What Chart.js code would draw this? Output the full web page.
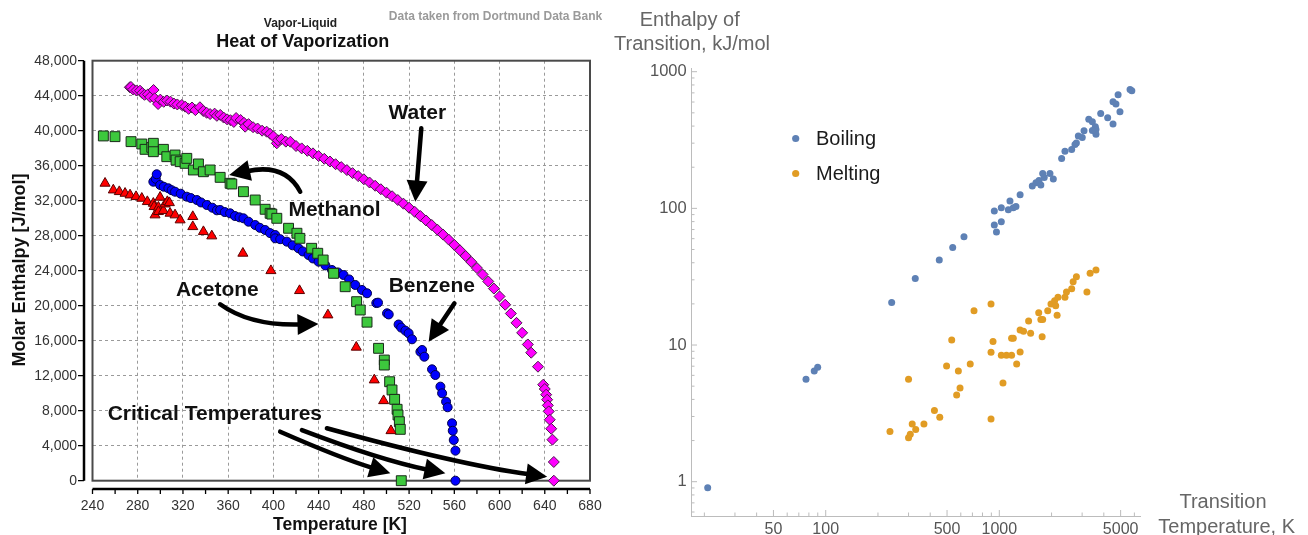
<!DOCTYPE html>
<html>
<head>
<meta charset="utf-8">
<script src="https://cdn.jsdelivr.net/npm/chart.js@4.4.1/dist/chart.umd.min.js"></script>
<style>
  html, body { margin: 0; padding: 0; background: #fff; overflow: hidden; }
  #left { position: absolute; left: 0; top: 0; }
  #right { position: absolute; left: 600px; top: 0; }
</style>
</head>
<body>
<canvas id="left" width="620" height="535"></canvas>
<canvas id="right" width="708" height="535"></canvas>
<script>
Chart.defaults.font.family = "Arial, 'Liberation Sans', sans-serif";

// ---- heat of vaporization (K, J/mol)
const waterT = [273, 274, 276, 279, 282, 284, 286, 289, 291, 294, 295, 298, 300, 303, 306, 309, 312, 315, 319, 322,
  325, 328, 331, 335, 338, 341, 344, 348, 350, 353, 356, 359, 362, 365, 367, 371, 374, 375, 378, 382,
  386, 390, 394, 397, 400, 403, 404, 407, 411, 415, 420, 425, 430, 435, 440, 445, 450, 455, 460, 465,
  470, 475, 480, 485, 490, 495, 500, 505, 510, 515, 520, 525, 530, 535, 540, 545, 550, 555, 560, 565,
  570, 575, 580, 585, 590, 595, 600, 605, 610, 615, 620, 625, 628, 634, 638.6, 640, 641.2, 642.1, 642.7,
  643.5, 644.4, 645.7, 646.8, 648, 648];
const waterH = [44960, 45000, 44700, 44600, 44570, 44300, 44100, 44150, 43850, 44650, 43700, 43050, 43550, 43300, 43450, 43320, 43100, 43000, 42940, 42750,
  42500, 42650, 42350, 42680, 42250, 42050, 41900, 41950, 41700, 41800, 41500, 41300, 41200, 41000, 41450, 41220, 40900, 40460, 40750, 40400,
  40250, 40000, 39890, 39650, 39350, 38560, 38900, 39050, 38750, 38740, 38250, 37980, 37700, 37410, 37100, 36790, 36480, 36170, 35840, 35500,
  35150, 34810, 34450, 34080, 33710, 33310, 32920, 32510, 32080, 31660, 31200, 30730, 30240, 29740, 29220, 28690, 28130, 27560, 26950, 26330,
  25680, 25000, 24300, 23570, 22770, 21960, 21060, 20110, 19110, 18040, 16900, 15570, 14630, 13030, 10970, 10480, 9830, 9260, 8610,
  7920, 6970, 5940, 4690, 2140, 0];

const methanolT = [249.6, 259.9, 274.1, 283.6, 286.5, 292.4, 293.8, 293.8, 302.7, 305.7, 313, 313.9, 317.5, 321.9, 323.4, 329.2, 333.7, 338.1, 344, 352.9,
  361.7, 363.2, 373.5, 383.9, 392.7, 397.1, 398.6, 403, 413.4, 420.8, 423.4, 433.8, 439.2, 444, 453.2, 463.5, 473.6, 476.8, 482.8, 493,
  498.1, 498.1, 502.8, 504.9, 507.2, 509.4, 510.2, 511.4, 512.2, 513.1];
const methanolH = [39400, 39320, 38750, 38480, 37870, 38100, 38560, 37600, 37870, 37030, 37220, 36650, 36460, 36270, 36840, 35510, 36200, 35310, 35510, 34670,
  33990, 33910, 33030, 32080, 31020, 30560, 30470, 29990, 28850, 28280, 27700, 26560, 25990, 25220, 23700, 22170, 20460, 19510, 18120, 15130,
  13790, 13220, 11310, 10370, 9300, 8160, 7510, 6740, 5870, 0];

const benzeneT = [293.8, 296, 296.8, 299.8, 303, 307.1, 310, 313, 318, 323.4, 327, 332.3, 336, 341.1, 346, 350, 352.9, 357, 361.7, 366,
  370, 373.5, 378, 383.9, 388, 392.7, 397, 401.6, 401.6, 406, 411.9, 417, 422.2, 426, 431.1, 435, 439.9, 446, 451.8, 457,
  462, 467, 472.4, 478.3, 482.8, 491, 492.5, 500.5, 502, 510.7, 513, 516.7, 519.6, 522.6, 530, 531.5, 533.5, 540.3, 543.2, 547.7,
  549.2, 552.7, 554.1, 558, 558.6, 559.5, 561, 561];
const benzeneH = [34170, 34500, 35020, 33800, 33600, 33420, 33200, 33030, 32800, 32460, 32300, 32080, 31800, 31510, 31200, 30900, 30940, 30700, 30560, 30250,
  30100, 29990, 29600, 29220, 28900, 28650, 28300, 28080, 27700, 27600, 27320, 26900, 26560, 26200, 25790, 25400, 25030, 24600, 24080, 23800,
  23510, 23000, 22370, 21800, 21420, 20300, 20350, 19130, 19000, 17850, 17500, 17150, 16850, 16160, 14740, 14940, 14170, 12730, 12080, 10750,
  9990, 9030, 8390, 6560, 5710, 4650, 3430, 0];

const acetoneT = [251.1, 258.4, 263.7, 268.8, 273.2, 278.5, 283.6, 288.5, 293.8, 294.5, 295.3, 298.3, 298.3, 299.8, 302.7, 304.2, 306.2, 308, 308.6, 313,
  317.5, 328.7, 328.7, 338.1, 345.5, 373, 397.8, 423.1, 448.2, 473.3, 489.2, 497.5, 504];
const acetoneH = [33990, 33220, 33030, 32840, 32650, 32460, 32270, 31890, 31700, 31320, 30370, 31250, 30750, 32390, 30860, 31620, 31890, 31770, 30560, 30370,
  29800, 30180, 29030, 28460, 27970, 25990, 24000, 21720, 18940, 15250, 11510, 9140, 5710];

const tempTicks = [240, 280, 320, 360, 400, 440, 480, 520, 560, 600, 640, 680];
const enthalpyTicks = [0, 4000, 8000, 12000, 16000, 20000, 24000, 28000, 32000, 36000, 40000, 44000, 48000];

// ---- enthalpy of transition (K, kJ/mol)
const boilingT = [20.9, 77, 85.9, 89.9, 239.9, 328, 451, 539, 626, 936, 963, 1027, 936, 1027, 1127, 1152, 1204, 1247, 1318, 1549,
  1626, 1693, 1735, 1778, 1815, 1958, 2047, 2286, 2389, 2612, 2729, 2780, 2853, 3005, 3076, 3276, 3436, 3575, 3605, 3605,
  3436, 3838, 4210, 4519, 4698, 4835, 4955, 4519, 5665, 5800];
const boilingH = [0.904, 5.61, 6.45, 6.87, 20.5, 30.7, 41.9, 51.8, 62, 75.5, 67.1, 79.8, 95.6, 101, 97.6, 113, 101, 103, 126, 146,
  154, 160, 148, 180, 168, 180, 164, 232, 262, 270, 293, 301, 338, 330, 370, 448, 430, 396, 377, 349,
  372, 495, 460, 602, 580, 678, 509, 414, 741, 725];
const meltingT = [234.5, 300, 300, 307, 315, 330, 368, 423, 454, 497, 532, 568, 594, 581, 680, 715, 896, 896, 920, 896,
  1027, 1100, 1177, 1050, 1177, 1204, 1259, 1318, 1318, 1379, 1475, 1515, 1687, 1735, 1778, 1765, 1901, 1985, 2083, 2113,
  2153, 2178, 2389, 2438, 2612, 2663, 2781, 3197, 3335, 3605];
const meltingH = [2.33, 5.61, 2.10, 2.22, 2.64, 2.41, 2.64, 3.32, 2.96, 7.03, 10.9, 4.31, 4.84, 6.45, 7.26, 17.8, 19.95, 8.84, 10.6, 2.87,
  8.41, 8.41, 8.41, 5.27, 11.2, 11.2, 7.26, 8.9, 12.9, 12.6, 15, 12.2, 17.2, 15.4, 15.4, 11.5, 17.8, 19.95, 21.1, 19.4,
  16.5, 22.4, 22.4, 24.4, 25.8, 29.1, 31.6, 24.4, 33.5, 35.4];

const logXTicks = [20, 30, 40, 50, 60, 70, 80, 90, 100, 200, 300, 400, 500, 600, 700, 800, 900, 1000, 2000, 3000, 4000, 5000, 6000];
const logXLabels = [50, 100, 500, 1000, 5000];
const logYTicks = [0.6, 0.7, 0.8, 0.9, 1, 2, 3, 4, 5, 6, 7, 8, 9, 10, 20, 30, 40, 50, 60, 70, 80, 90, 100, 200, 300, 400, 500, 600, 700, 800, 900, 1000];
const logYLabels = [1, 10, 100, 1000];

const toXY = (xs, ys) => xs.map((x, i) => ({ x, y: ys[i] }));

// annotation labels and arrows, placed in data units
const notes = [
  { text: 'Water', x: 527.3, y: 41990 },
  { text: 'Methanol', x: 454, y: 30940 },
  { text: 'Benzene', x: 540.1, y: 22250 },
  { text: 'Acetone', x: 350.4, y: 21790 },
  { text: 'Critical Temperatures', x: 348.2, y: 7620 }
];
const arrows = [
  [[530.8, 40280], [528.2, 36080], [525.5, 31890]],
  [[423.7, 33030], [410.4, 36310], [360.9, 34940]],
  [[560.1, 20280], [548.7, 18085], [537.3, 15890]],
  [[352.9, 20160], [379.4, 17680], [439.9, 17910]],
  [[406.0, 5600], [459.1, 2590], [503.4, 846]],
  [[425.2, 5790], [494.5, 2370], [552.1, 846]],
  [[447.3, 5990], [565.4, 1790], [642.1, 457]]
];

function drawArrow(ctx, p0, c, p1) {
  const dx = p1.x - c.x, dy = p1.y - c.y, len = Math.hypot(dx, dy);
  const ux = dx / len, uy = dy / len;
  const hl = 21, hw = 10.5;
  const bx = p1.x - ux * hl, by = p1.y - uy * hl;
  ctx.beginPath();
  ctx.moveTo(p0.x, p0.y);
  ctx.quadraticCurveTo(c.x, c.y, bx + ux * 3, by + uy * 3);
  ctx.stroke();
  ctx.beginPath();
  ctx.moveTo(p1.x, p1.y);
  ctx.lineTo(bx - uy * hw, by + ux * hw);
  ctx.lineTo(bx + uy * hw, by - ux * hw);
  ctx.closePath();
  ctx.fill();
}

const leftDecor = {
  id: 'leftDecor',
  beforeDatasetsDraw(chart) {
    const { ctx, chartArea: a } = chart;
    ctx.save();
    ctx.strokeStyle = '#4a4a4a';
    ctx.lineWidth = 2;
    ctx.strokeRect(a.left, a.top, a.right - a.left, a.bottom - a.top);
    ctx.restore();
  },
  afterDraw(chart) {
    const { ctx, chartArea: a, scales: { x, y } } = chart;
    const ax = a.left - 8.5, ay = a.bottom + 8.3;
    ctx.save();
    // detached axes
    ctx.strokeStyle = '#000';
    ctx.lineWidth = 2.5;
    ctx.beginPath();
    ctx.moveTo(ax, a.top); ctx.lineTo(ax, a.bottom);
    ctx.moveTo(a.left, ay); ctx.lineTo(a.right, ay);
    ctx.stroke();
    ctx.lineWidth = 1.3;
    ctx.beginPath();
    enthalpyTicks.forEach(v => {
      const py = y.getPixelForValue(v);
      ctx.moveTo(ax, py); ctx.lineTo(ax - 6, py);
    });
    for (let t = tempTicks[0]; t <= tempTicks[tempTicks.length - 1]; t += 20) {
      const px = x.getPixelForValue(t);
      ctx.moveTo(px, ay); ctx.lineTo(px, ay + 5);
    }
    ctx.stroke();

    // titles
    ctx.textAlign = 'center';
    ctx.textBaseline = 'middle';
    ctx.fillStyle = '#9a9a9a';
    ctx.font = "bold 12px Arial, 'Liberation Sans', sans-serif";
    ctx.fillText('Data taken from Dortmund Data Bank', 495.5, 16.7);
    ctx.fillStyle = '#222';
    ctx.fillText('Vapor-Liquid', 300.5, 24);
    ctx.fillStyle = '#111';
    ctx.font = "bold 18px Arial, 'Liberation Sans', sans-serif";
    ctx.fillText('Heat of Vaporization', 302.8, 42);
    ctx.font = "bold 17.5px Arial, 'Liberation Sans', sans-serif";
    ctx.fillText('Temperature [K]', 340, 525);
    ctx.save();
    ctx.translate(20, 270);
    ctx.rotate(-Math.PI / 2);
    ctx.font = "bold 18px Arial, 'Liberation Sans', sans-serif";
    ctx.fillText('Molar Enthalpy [J/mol]', 0, 0);
    ctx.restore();

    // annotations
    ctx.fillStyle = '#111';
    ctx.font = "bold 21px Arial, 'Liberation Sans', sans-serif";
    notes.forEach(n => ctx.fillText(n.text, x.getPixelForValue(n.x), y.getPixelForValue(n.y)));
    ctx.strokeStyle = '#000';
    ctx.fillStyle = '#000';
    ctx.lineWidth = 4.5;
    ctx.lineCap = 'round';
    arrows.forEach(ar => {
      const p = ar.map(([t, h]) => ({ x: x.getPixelForValue(t), y: y.getPixelForValue(h) }));
      drawArrow(ctx, p[0], p[1], p[2]);
    });
    ctx.restore();
  }
};

new Chart(document.getElementById('left'), {
  type: 'scatter',
  data: {
    datasets: [
      { label: 'Water', data: toXY(waterT, waterH), pointStyle: 'rectRot', pointRadius: 5.5,
        backgroundColor: '#ff00ff', borderColor: '#4a1a4a', borderWidth: 1, clip: false },
      { label: 'Acetone', data: toXY(acetoneT, acetoneH), pointStyle: 'triangle', pointRadius: 5.8,
        backgroundColor: '#ff0000', borderColor: '#5a0000', borderWidth: 1, clip: false },
      { label: 'Methanol', data: toXY(methanolT, methanolH), pointStyle: 'rect', pointRadius: 7,
        backgroundColor: '#3dc83d', borderColor: '#1a2a1a', borderWidth: 1, clip: false },
      { label: 'Benzene', data: toXY(benzeneT, benzeneH), pointStyle: 'circle', pointRadius: 4.5,
        backgroundColor: '#0000ff', borderColor: '#00004a', borderWidth: 1, clip: false }
    ]
  },
  options: {
    responsive: false,
    animation: false,
    events: [],
    layout: { padding: { top: 60.7, right: 30, bottom: 0, left: 0 } },
    plugins: { legend: { display: false }, tooltip: { enabled: false } },
    scales: {
      x: {
        type: 'linear',
        min: tempTicks[0],
        max: tempTicks[tempTicks.length - 1],
        afterFit: s => { s.height = 54.3; },
        ticks: { stepSize: 40, padding: 16.9, color: '#333', font: { size: 14 }, maxRotation: 0 },
        grid: { color: '#9a9a9a', lineWidth: 1, drawTicks: false },
        border: { display: false, dash: [3, 3] }
      },
      y: {
        min: enthalpyTicks[0],
        max: enthalpyTicks[enthalpyTicks.length - 1],
        afterFit: s => { s.width = 92.5; },
        ticks: { stepSize: 4000, padding: 15.5, color: '#333', font: { size: 14 },
          callback: v => v.toLocaleString('en-US') },
        grid: { color: '#9a9a9a', lineWidth: 1, drawTicks: false },
        border: { display: false, dash: [3, 3] }
      }
    }
  },
  plugins: [leftDecor]
});

const rightDecor = {
  id: 'rightDecor',
  beforeDatasetsDraw(chart) {
    const { ctx, chartArea: a, scales: { x, y } } = chart;
    ctx.save();
    ctx.strokeStyle = '#bcbcbc';
    ctx.lineWidth = 1;
    ctx.beginPath();
    logXTicks.forEach(v => {
      const px = x.getPixelForValue(v), len = logXLabels.includes(v) ? 6 : 3.5;
      ctx.moveTo(px, a.bottom); ctx.lineTo(px, a.bottom - len);
    });
    logYTicks.forEach(v => {
      const py = y.getPixelForValue(v), len = logYLabels.includes(v) ? 6 : 3.5;
      ctx.moveTo(a.left, py); ctx.lineTo(a.left + len, py);
    });
    ctx.stroke();
    ctx.restore();
  },
  afterDraw(chart) {
    const { ctx, chartArea: a } = chart;
    ctx.save();
    ctx.textAlign = 'center';
    ctx.textBaseline = 'middle';
    ctx.fillStyle = '#666';
    ctx.font = "20px Arial, 'Liberation Sans', sans-serif";
    ctx.fillText('Enthalpy of', a.left - 1.3, 20);
    ctx.fillText('Transition, kJ/mol', a.left + 1, 44.5);
    ctx.fillText('Transition', a.right + 83, 502.3);
    ctx.fillText('Temperature, K', a.right + 86.7, 527);
    // legend
    const items = [['Boiling', '#5e81b5', 138.5], ['Melting', '#e19c24', 173.5]];
    ctx.textAlign = 'left';
    items.forEach(([label, color, ly]) => {
      ctx.fillStyle = color;
      ctx.beginPath();
      ctx.arc(a.left + 104.7, ly, 3.6, 0, Math.PI * 2);
      ctx.fill();
      ctx.fillStyle = '#1a1a1a';
      ctx.fillText(label, a.left + 125, ly + 1);
    });
    ctx.restore();
  }
};

new Chart(document.getElementById('right'), {
  type: 'scatter',
  data: {
    datasets: [
      { label: 'Boiling', data: toXY(boilingT, boilingH), pointRadius: 3.5,
        backgroundColor: '#5e81b5', borderWidth: 0 },
      { label: 'Melting', data: toXY(meltingT, meltingH), pointRadius: 3.5,
        backgroundColor: '#e19c24', borderWidth: 0 }
    ]
  },
  options: {
    responsive: false,
    animation: false,
    events: [],
    layout: { padding: { top: 68.3, right: 168, bottom: 0, left: 0 } },
    plugins: { legend: { display: false }, tooltip: { enabled: false } },
    scales: {
      x: {
        type: 'logarithmic',
        min: 16.75,
        max: 6464,
        afterBuildTicks: s => { s.ticks = logXTicks.map(v => ({ value: v })); },
        afterFit: s => { s.height = 19; },
        ticks: { autoSkip: false, maxRotation: 0, padding: 4.4, color: '#555', font: { size: 16 },
          callback: v => (logXLabels.includes(v) ? String(v) : '') },
        grid: { display: false, drawTicks: false },
        border: { color: '#bcbcbc', width: 1 }
      },
      y: {
        type: 'logarithmic',
        min: 0.561,
        max: 1059,
        afterBuildTicks: s => { s.ticks = logYTicks.map(v => ({ value: v })); },
        afterFit: s => { s.width = 91; },
        ticks: { autoSkip: false, padding: 4.3, color: '#555', font: { size: 16.5 },
          callback: v => (logYLabels.includes(v) ? String(v) : '') },
        grid: { display: false, drawTicks: false },
        border: { color: '#bcbcbc', width: 1 }
      }
    }
  },
  plugins: [rightDecor]
});
</script>
</body>
</html>
